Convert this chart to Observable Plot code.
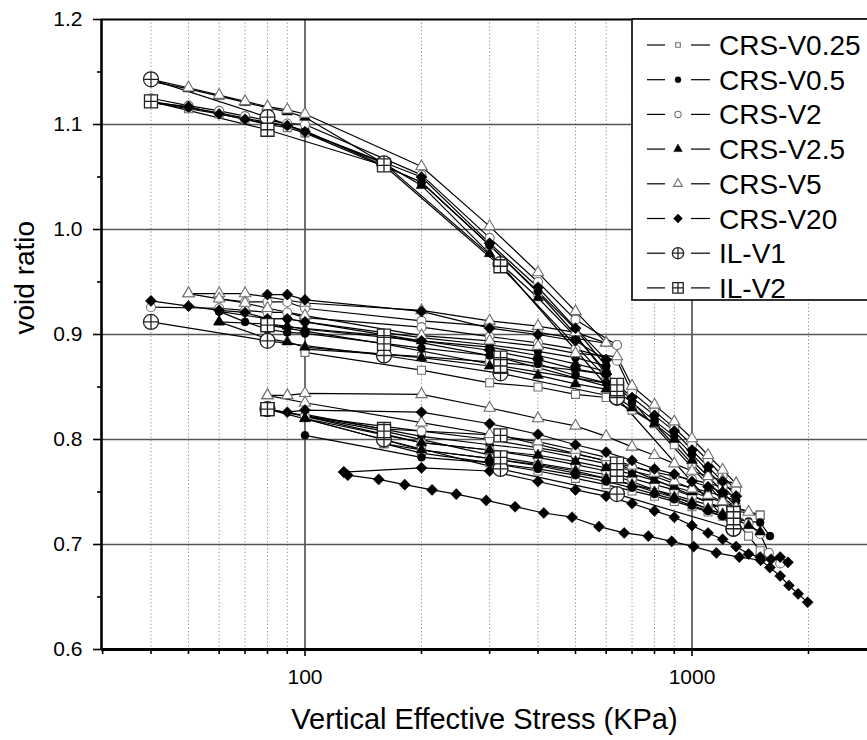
<!DOCTYPE html>
<html><head><meta charset="utf-8">
<script src="https://cdn.jsdelivr.net/npm/d3@7"></script>
<script src="https://cdn.jsdelivr.net/npm/@observablehq/plot@0.6"></script>
<style>
body{margin:0;background:#fff;}
#wrap{position:relative;width:867px;height:740px;overflow:hidden;font-family:"Liberation Sans",Arial,sans-serif;}
#legend{position:absolute;left:0;top:0;}
</style></head><body><div id="wrap"></div>
<script>
// ---- tick values ----
const xMajorTicks = [100, 1000];
const xMinorTicks = [30, 40, 50, 60, 70, 80, 90, 200, 300, 400, 500, 600, 700, 800, 900, 2000];
const xGridMinor = [40, 50, 60, 70, 80, 90, 200, 300, 400, 500, 600, 700, 800, 900, 2000];
const yMajorTicks = [0.6, 0.7, 0.8, 0.9, 1.0, 1.1, 1.2];
const yMinorTicks = [0.65, 0.75, 0.85, 0.95, 1.05, 1.15];
const yGridLines = [0.7, 0.8, 0.9, 1.0, 1.1];

// ---- series (segments of [stress kPa, void ratio]) ----
const seriesNames = ["CRS-V0.25", "CRS-V0.5", "CRS-V2", "CRS-V2.5", "CRS-V5", "CRS-V20", "IL-V1", "IL-V2"];

const crsV025 = [
  [[40,1.121],[50,1.115],[60,1.110],[70,1.105],[80,1.100],[90,1.097],[100,1.092],[200,1.045],[300,0.985],[400,0.940],[500,0.900],[600,0.862]],
  [[600,0.862],[500,0.866],[400,0.870],[300,0.874],[200,0.879],[100,0.886]],
  [[100,0.883],[200,0.866],[300,0.854],[400,0.850],[500,0.843],[600,0.840],[700,0.828],[800,0.815],[900,0.795],[1000,0.777],[1100,0.760],[1200,0.745],[1300,0.735],[1500,0.728]],
  [[1500,0.728],[1300,0.732],[1200,0.735],[1100,0.738],[1000,0.742],[900,0.747],[800,0.752],[700,0.757],[600,0.763],[500,0.768],[400,0.775],[300,0.782],[200,0.790],[160,0.796]],
  [[160,0.796],[200,0.787],[300,0.778],[400,0.770],[500,0.763],[600,0.757],[700,0.751],[800,0.746],[900,0.741],[1000,0.736],[1100,0.731],[1200,0.727],[1300,0.722],[1400,0.708],[1500,0.694]]
];
const crsV05 = [
  [[40,1.122],[50,1.116],[60,1.111],[70,1.106],[80,1.102],[90,1.099],[100,1.094],[200,1.045],[300,0.985],[400,0.941],[500,0.905],[600,0.870]],
  [[600,0.870],[500,0.878],[400,0.884],[300,0.890],[200,0.897],[100,0.912],[90,0.915],[80,0.915],[60,0.922]],
  [[60,0.922],[70,0.912],[80,0.905],[90,0.902],[100,0.901],[200,0.887],[300,0.880],[400,0.872],[500,0.861],[600,0.854],[700,0.835],[800,0.818],[900,0.803],[1000,0.786],[1100,0.770],[1200,0.756],[1300,0.742]],
  [[1300,0.742],[1200,0.746],[1100,0.750],[1000,0.754],[900,0.758],[800,0.765],[700,0.770],[600,0.777],[500,0.783],[400,0.790],[300,0.795],[200,0.803],[100,0.824]],
  [[100,0.804],[200,0.783],[300,0.778],[400,0.772],[500,0.766],[600,0.760],[700,0.754],[800,0.748],[900,0.743],[1000,0.737],[1100,0.732],[1200,0.727],[1300,0.724],[1400,0.722],[1500,0.721],[1590,0.708]]
];
const crsV2 = [
  [[40,1.125],[50,1.118],[60,1.113],[70,1.108],[80,1.104],[90,1.101],[100,1.100],[200,1.052],[300,0.992],[400,0.950],[500,0.914],[640,0.890]],
  [[640,0.890],[400,0.902],[300,0.908],[200,0.913],[100,0.925],[90,0.931],[80,0.931],[70,0.931],[60,0.934]],
  [[40,0.926],[60,0.925],[70,0.923],[80,0.921],[90,0.921],[100,0.916],[200,0.907],[300,0.898],[400,0.892],[500,0.886],[640,0.875],[700,0.845],[800,0.827],[900,0.811],[1000,0.795],[1100,0.780],[1200,0.765],[1300,0.752]],
  [[1300,0.752],[1200,0.755],[1100,0.758],[1000,0.762],[900,0.765],[800,0.769],[700,0.774],[600,0.780],[500,0.786],[400,0.792],[300,0.800],[200,0.808],[100,0.822]],
  [[100,0.822],[200,0.797],[300,0.790],[400,0.783],[500,0.776],[600,0.770],[700,0.763],[800,0.757],[900,0.752],[1000,0.746],[1100,0.740],[1200,0.734],[1300,0.728],[1400,0.720],[1500,0.710],[1580,0.692],[1690,0.682]]
];
const crsV25 = [
  [[40,1.141],[50,1.134],[60,1.127],[70,1.121],[80,1.116],[90,1.112],[100,1.107],[200,1.042],[300,0.977],[400,0.935],[500,0.898],[600,0.865]],
  [[600,0.865],[500,0.872],[400,0.880],[300,0.888],[200,0.894],[100,0.905],[90,0.908],[80,0.910],[60,0.912]],
  [[60,0.912],[80,0.896],[90,0.893],[100,0.888],[200,0.878],[300,0.870],[400,0.861],[500,0.853],[600,0.848],[700,0.830],[800,0.815],[900,0.800],[1000,0.780],[1100,0.765],[1200,0.750],[1300,0.736]],
  [[1300,0.736],[1200,0.740],[1100,0.745],[1000,0.750],[900,0.755],[800,0.761],[700,0.767],[600,0.773],[500,0.779],[400,0.785],[300,0.790],[200,0.797],[100,0.820]],
  [[100,0.820],[200,0.790],[300,0.782],[400,0.776],[500,0.770],[600,0.763],[700,0.757],[800,0.750],[900,0.745],[1000,0.740],[1100,0.734],[1200,0.729],[1300,0.724],[1400,0.718],[1500,0.712]]
];
const crsV5 = [
  [[40,1.143],[50,1.135],[60,1.128],[70,1.122],[80,1.117],[90,1.114],[100,1.110],[200,1.060],[300,1.003],[400,0.959],[500,0.922],[600,0.892]],
  [[600,0.892],[500,0.902],[400,0.908],[300,0.913],[200,0.923],[100,0.930],[70,0.939],[60,0.939],[50,0.939]],
  [[50,0.939],[60,0.934],[70,0.930],[80,0.925],[100,0.918],[200,0.899],[300,0.894],[400,0.889],[500,0.882],[640,0.879],[700,0.851],[800,0.833],[900,0.817],[1000,0.801],[1100,0.785],[1200,0.771],[1300,0.758]],
  [[1300,0.758],[1200,0.761],[1100,0.765],[1000,0.770],[900,0.777],[800,0.785],[700,0.793],[600,0.803],[500,0.813],[400,0.820],[300,0.830],[200,0.843],[100,0.844],[90,0.842],[80,0.842]],
  [[80,0.842],[100,0.835],[200,0.816],[300,0.805],[400,0.798],[500,0.790],[600,0.783],[700,0.775],[800,0.768],[900,0.760],[1000,0.753],[1100,0.747],[1200,0.741],[1300,0.735],[1400,0.731]]
];
const crsV20 = [
  [[40,1.121],[50,1.117],[60,1.110],[70,1.105],[80,1.101],[90,1.099],[100,1.093],[200,1.050],[300,0.987],[400,0.945],[500,0.906],[600,0.876]],
  [[600,0.876],[500,0.894],[400,0.900],[300,0.906],[200,0.922],[100,0.933],[90,0.938],[80,0.938]],
  [[40,0.932],[50,0.927],[60,0.923],[70,0.921],[80,0.915],[90,0.915],[100,0.912],[200,0.894],[300,0.885],[400,0.876],[500,0.867],[600,0.862],[700,0.840],[800,0.823],[900,0.808],[1000,0.790],[1100,0.774],[1200,0.760],[1300,0.746]],
  [[1300,0.746],[1200,0.750],[1100,0.755],[1000,0.760],[900,0.767],[800,0.772],[700,0.780],[600,0.788],[500,0.795],[400,0.805],[300,0.815],[200,0.826],[100,0.828],[90,0.826]],
  [[126,0.769],[200,0.773],[300,0.770],[400,0.760],[500,0.752],[600,0.746],[700,0.739],[800,0.732],[900,0.726],[1000,0.718],[1100,0.711],[1200,0.705],[1300,0.698],[1400,0.691],[1500,0.688],[1600,0.686],[1690,0.688],[1770,0.683]],
  [[1990,0.645],[1880,0.653],[1780,0.661],[1690,0.670],[1590,0.678],[1505,0.685],[1325,0.688],[1156,0.692],[1010,0.698],[886,0.703],[771,0.708],[668,0.711],[575,0.717],[490,0.726],[414,0.730],[349,0.736],[294,0.742],[246,0.748],[213,0.752],[181,0.757],[155,0.762],[129,0.766],[126,0.769]]
];
const ilV1 = [
  [[40,1.143],[80,1.107],[160,1.063],[320,0.967],[640,0.840]],
  [[640,0.840],[320,0.863],[160,0.880],[80,0.894],[40,0.912]],
  [[640,0.840],[1280,0.715]],
  [[1280,0.715],[640,0.748],[320,0.772],[160,0.800],[80,0.829]]
];
const ilV2 = [
  [[40,1.122],[80,1.095],[160,1.061],[320,0.965],[640,0.848]],
  [[640,0.848],[320,0.878],[160,0.899],[80,0.909]],
  [[80,0.909],[160,0.891],[320,0.870],[640,0.852],[1280,0.730]],
  [[1280,0.730],[640,0.777],[320,0.804],[160,0.810],[80,0.829]],
  [[80,0.829],[160,0.808],[320,0.783],[640,0.765],[1280,0.725]]
];
const allSeries = [crsV025, crsV05, crsV2, crsV25, crsV5, crsV20, ilV1, ilV2];

// ---- build table ----
const rows = [];
allSeries.forEach((segs, i) => segs.forEach((seg, j) => seg.forEach(([s, e]) =>
  rows.push({series: seriesNames[i], seg: seriesNames[i] + "#" + j, s, e}))));

// ---- symbols ----
const circlePlus = {draw(ctx, size) { const r = Math.sqrt(size / Math.PI);
  ctx.moveTo(r, 0); ctx.arc(0, 0, r, 0, 2 * Math.PI);
  ctx.moveTo(-r, 0); ctx.lineTo(r, 0); ctx.moveTo(0, -r); ctx.lineTo(0, r); }};
const squarePlus = {draw(ctx, size) { const r = Math.sqrt(size / Math.PI);
  ctx.moveTo(-r, -r); ctx.lineTo(r, -r); ctx.lineTo(r, r); ctx.lineTo(-r, r); ctx.closePath();
  ctx.moveTo(-r, 0); ctx.lineTo(r, 0); ctx.moveTo(0, -r); ctx.lineTo(0, r); }};

const styles = [
  {symbol: d3.symbolSquare,   r: 4.5, fill: "white", stroke: "#707070", sw: 1.1, lr: 2.6},
  {symbol: d3.symbolCircle,   r: 4,   fill: "black", stroke: "black",  sw: 0.5, lr: 3},
  {symbol: d3.symbolCircle,   r: 4.5, fill: "white", stroke: "#707070", sw: 1.1, lr: 3.2},
  {symbol: d3.symbolTriangle, r: 4,   fill: "black", stroke: "black",  sw: 0.5, lr: 3.2},
  {symbol: d3.symbolTriangle, r: 4.2, fill: "white", stroke: "#707070", sw: 1.1, lr: 3.3},
  {symbol: d3.symbolDiamond2, r: 5,   fill: "black", stroke: "black",  sw: 0.5, lr: 4},
  {symbol: circlePlus,        r: 7.5, fill: "white", stroke: "#222",   sw: 1.3, lr: 5.6},
  {symbol: squarePlus,        r: 6.5, fill: "white", stroke: "#222",   sw: 1.3, lr: 5.2}
];

const FONT = "'Liberation Sans', Arial, sans-serif";

const marks = [
  Plot.gridX(xGridMinor, {stroke: "#8c8c8c", strokeOpacity: 1, strokeWidth: 1, strokeDasharray: "1.2,2.4"}),
  Plot.gridX(xMajorTicks, {stroke: "#333", strokeOpacity: 1, strokeWidth: 1.4}),
  Plot.gridY(yGridLines, {stroke: "#555", strokeOpacity: 1, strokeWidth: 1.6}),
  Plot.line(rows, {x: "s", y: "e", z: "seg", stroke: "black", strokeWidth: 1.2})
];
seriesNames.forEach((name, i) => {
  const st = styles[i];
  marks.push(Plot.dot(rows.filter(d => d.series === name), {
    x: "s", y: "e", symbol: st.symbol, r: st.r, fill: st.fill, stroke: st.stroke, strokeWidth: st.sw
  }));
});
marks.push(
  Plot.ruleY([1.2], {stroke: "black", strokeWidth: 2.2}),
  Plot.ruleY([0.6], {stroke: "black", strokeWidth: 3}),
  Plot.ruleX([29.8], {stroke: "black", strokeWidth: 2.6}),
  Plot.axisY(yMajorTicks, {anchor: "left", tickSize: 8, tickPadding: 11, strokeWidth: 1.6,
    tickFormat: d => d.toFixed(1), fontSize: 21, label: null}),
  Plot.axisY(yMinorTicks, {anchor: "left", tickSize: 4, strokeWidth: 1.6, tickFormat: () => "", label: null}),
  Plot.axisX(xMajorTicks, {anchor: "bottom", tickSize: 7, tickPadding: 13, strokeWidth: 1.6,
    tickFormat: d => String(d), fontSize: 21, label: null}),
  Plot.axisX(xMinorTicks, {anchor: "bottom", tickSize: 5, strokeWidth: 1.6, tickFormat: () => "", label: null}),
  Plot.text(["Vertical Effective Stress (KPa)"], {frameAnchor: "bottom", dy: 70, fontSize: 29, lineAnchor: "middle"}),
  Plot.text(["void ratio"], {frameAnchor: "left", dx: -76, rotate: -90, fontSize: 28, lineAnchor: "middle"})
);

const chart = Plot.plot({
  width: 867, height: 740,
  marginLeft: 101, marginRight: 0, marginTop: 19, marginBottom: 91,
  style: {fontFamily: FONT, fontSize: "21px", color: "black", background: "white", overflow: "visible"},
  x: {type: "log", domain: [29.8, 2841]},
  y: {domain: [0.6, 1.2]},
  marks
});
document.getElementById("wrap").appendChild(chart);

// ---- legend ----
const leg = d3.select("#wrap").append("svg").attr("id", "legend").attr("width", 867).attr("height", 740);
leg.append("rect").attr("x", 632).attr("y", 19).attr("width", 260).attr("height", 281)
  .attr("fill", "white").attr("stroke", "black").attr("stroke-width", 1.6);
seriesNames.forEach((name, i) => {
  const y = 45 + i * 34.7, st = styles[i];
  const g = leg.append("g");
  g.append("line").attr("x1", 647).attr("x2", 665).attr("y1", y).attr("y2", y).attr("stroke", "black").attr("stroke-width", 1.2);
  g.append("line").attr("x1", 691).attr("x2", 710).attr("y1", y).attr("y2", y).attr("stroke", "black").attr("stroke-width", 1.2);
  g.append("path").attr("transform", `translate(678,${y})`)
    .attr("d", d3.symbol(st.symbol, Math.PI * st.lr * st.lr)())
    .attr("fill", st.fill).attr("stroke", st.stroke).attr("stroke-width", st.sw);
  g.append("text").attr("x", 719).attr("y", y).attr("dy", "0.36em")
    .attr("font-family", FONT).attr("font-size", 28).attr("fill", "black").text(name);
});
</script></body></html>
